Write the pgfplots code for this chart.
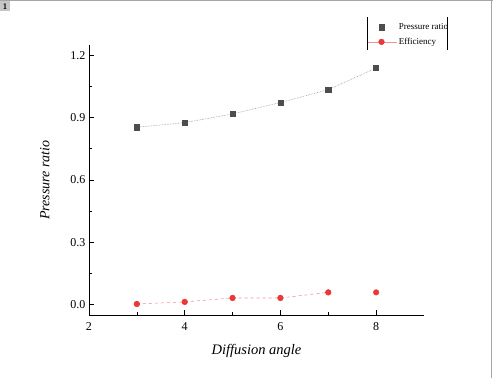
\documentclass[border=0pt]{standalone}
\usepackage{pgfplots}
\pgfplotsset{compat=1.18}
\usepackage{fontspec}
\setmainfont{Liberation Serif}
\definecolor{pgray}{RGB}{77,77,77}
\definecolor{ered}{RGB}{235,55,55}
\pgfplotsset{
  marklegend/.style={legend image code/.code={\draw[##1,only marks] plot coordinates {(15pt,0pt)};}},
  linelegend/.style={legend image code/.code={\draw[##1,solid,mark repeat=2,mark phase=2] plot coordinates {(0pt,0pt) (15pt,0pt) (30pt,0pt)};}},
}
\begin{document}
\begin{tikzpicture}
\path[use as bounding box] (-89pt,-63pt) rectangle (404pt,315pt);
\draw[gray!70,line width=1.2pt] (-89pt,314.5pt) -- (404pt,314.5pt);
\draw[gray!70,line width=0.8pt] (402pt,-63pt) -- (402pt,315pt);
\node[fill=gray!45,inner sep=0pt,minimum size=10pt,font=\fontsize{8}{9}\selectfont\bfseries\sffamily,anchor=north west] at (-89pt,314pt) {1};
\begin{axis}[
  scale only axis,
  width=335pt, height=270pt,
  xmin=2, xmax=9, ymin=-0.05, ymax=1.25,
  axis x line*=bottom, axis y line*=left,
  axis line style={line width=0.8pt},
  xtick={2,4,6,8}, ytick={0,0.3,0.6,0.9,1.2},
  xticklabels={\textrm{2},\textrm{4},\textrm{6},\textrm{8}},
  yticklabels={\textrm{0.0},\textrm{0.3},\textrm{0.6},\textrm{0.9},\textrm{1.2}},
  minor x tick num=1, minor y tick num=1,
  tick align=inside,
  major tick length=5pt, minor tick length=3pt,
  tick style={black,line width=0.7pt},
  ticklabel style={font=\fontsize{12}{13}\selectfont},
  xticklabel style={yshift=-4pt},
  xlabel={\textit{Diffusion angle}},
  ylabel={\textit{Pressure ratio}},
  xlabel style={font=\fontsize{14.5}{16}\selectfont,yshift=-7pt},
  ylabel style={font=\fontsize{14}{16}\selectfont,yshift=14pt},
  legend style={at={(276pt,266pt)},anchor=south west,draw=none,fill=none,
    font=\fontsize{9}{10}\selectfont,row sep=3pt,inner sep=1pt},
  legend cell align=left,
  clip=false,
]
\addplot[pgray!60, densely dotted, line width=0.6pt, mark=square*, mark size=2.6pt,
  mark options={solid,fill=pgray,draw=pgray}, marklegend]
  coordinates {(3,0.854) (4,0.876) (5,0.918) (6,0.973) (7,1.035) (8,1.139)};
\addlegendentry{Pressure ratio}
\addplot[ered!55, dashed, line width=0.6pt, mark=*, mark size=2.8pt,
  mark options={solid,fill=ered,draw=ered}, linelegend]
  coordinates {(3,0.003) (4,0.013) (5,0.032) (6,0.032) (7,0.059)};
\addlegendentry{Efficiency}
\addplot[only marks, mark=*, mark size=2.8pt, fill=ered, draw=ered, forget plot]
  coordinates {(8,0.059)};
\end{axis}
\draw[line width=0.6pt] (278pt,265pt) -- (278pt,298pt);
\draw[line width=0.6pt] (358pt,265pt) -- (358pt,298pt);
\end{tikzpicture}
\end{document}
